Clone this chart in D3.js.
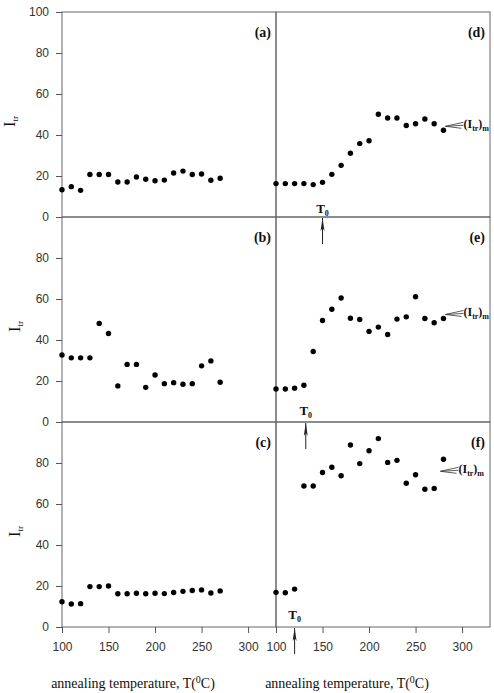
<!DOCTYPE html>
<meta charset="utf-8">
<head>
    <title>Itr vs annealing temperature</title>
    <script type="text/javascript" src="https://cdn.jsdelivr.net/npm/d3@7/dist/d3.min.js"></script>
    <style>
        body { margin: 0; background: #fff; }
        .tick text { font-family: "Liberation Sans", Arial, sans-serif; font-size: 12px; fill: #333; }
        .tick line { stroke: #555; }
        .serif { font-family: "Liberation Serif", "Times New Roman", serif; fill: #111; }
    </style>
</head>
<body>
<script>

// data
var tempLeft  = [100,110,120,130,140,150,160,170,180,190,200,210,220,230,240,250,260,270]
var tempRight = [100,110,120,130,140,150,160,170,180,190,200,210,220,230,240,250,260,270,280]

var itrA = [13.3,14.8,13.0,20.7,20.7,20.7,17.1,17.1,19.5,18.4,17.7,18.0,21.5,22.4,20.7,21.0,17.9,18.9]
var itrB = [32.7,31.3,31.3,31.3,48.1,43.2,17.6,28.1,28.1,16.9,22.9,18.7,19.2,18.4,18.7,27.4,29.8,19.4]
var itrC = [12.3,11.2,11.4,19.7,19.7,20.0,16.2,16.2,16.5,16.2,16.5,16.3,16.8,17.4,17.8,18.1,16.6,17.6]
var itrD = [16.3,16.3,16.3,16.3,15.8,16.9,20.8,25.2,31.1,35.8,37.2,50.1,48.3,48.3,44.6,45.5,47.8,45.5,42.3]
var itrE = [16.1,16.1,16.5,17.9,34.4,49.5,55.0,60.5,50.6,50.0,44.2,46.3,42.7,50.2,51.3,61.1,50.5,48.4,50.5]
var itrF = [16.9,16.7,18.5,68.8,68.8,75.4,77.9,73.8,88.8,79.7,86.0,91.9,80.3,81.3,70.1,74.3,67.2,67.6,81.8]

var leftLabels  = ["(a)","(b)","(c)"]
var rightLabels = ["(d)","(e)","(f)"]
var t0Values = [150, 132, 120]          // T0 arrows of (d), (e), (f)
var itrMValues = [42.3, 50.5, 74.0]     // where the (Itr)m arrows point
var xTicks = [100,150,200,250,300]

// svg
var w = 494
var h = 693
var svg = d3.select("body").append("svg").attr("width", w).attr("height", h)

var x0 = 62, xMid = 276, x1 = 490
var top0 = 12, ph = 205

var xL = d3.scaleLinear().domain([100,330]).range([x0, xMid])
var xR = d3.scaleLinear().domain([100,330]).range([xMid, x1])

var rows = [
    {left: itrA, right: itrD, ticks: [0,20,40,60,80,100], lab: 15, t0off: 4},
    {left: itrB, right: itrE, ticks: [0,20,40,60,80], lab: 20, t0off: 7},
    {left: itrC, right: itrF, ticks: [0,20,40,60,80], lab: 20, t0off: 8}
]

rows.forEach(function(r, i) {
    var t = top0 + i*ph
    var y = d3.scaleLinear().domain([0,100]).range([t+ph, t])

    // frames
    svg.append("rect").attr("x", x0).attr("y", t).attr("width", xMid-x0).attr("height", ph)
        .style("fill","none").style("stroke","#666")
    svg.append("rect").attr("x", xMid).attr("y", t).attr("width", x1-xMid).attr("height", ph)
        .style("fill","none").style("stroke","#666")

    // y axis
    var ga = svg.append("g").attr("transform","translate("+x0+",0)")
        .call(d3.axisLeft(y).tickValues(r.ticks).tickSize(6).tickPadding(7))
    ga.select(".domain").remove()

    // axis title
    var lt = svg.append("text").attr("class","serif")
        .attr("transform","translate("+r.lab+","+(t+ph/2+7)+") rotate(-90)")
        .attr("text-anchor","middle").style("font-size","16px")
    lt.append("tspan").text("I")
    lt.append("tspan").attr("dy", 3).style("font-size","9px").text("tr")

    // points
    svg.append("g").selectAll("circle").data(r.left).enter().append("circle")
        .attr("cx", function(d,j){return xL(tempLeft[j])})
        .attr("cy", function(d){return y(d)})
        .attr("r", 2.7).style("fill","#000")
    svg.append("g").selectAll("circle").data(r.right).enter().append("circle")
        .attr("cx", function(d,j){return xR(tempRight[j])})
        .attr("cy", function(d){return y(d)})
        .attr("r", 2.7).style("fill","#000")

    // panel letters
    svg.append("text").attr("class","serif").attr("x", xMid-5).attr("y", t+25)
        .attr("text-anchor","end").style("font-size","14px").style("font-weight","bold").text(leftLabels[i])
    svg.append("text").attr("class","serif").attr("x", x1-5).attr("y", t+25)
        .attr("text-anchor","end").style("font-size","14px").style("font-weight","bold").text(rightLabels[i])

    // T0 label and arrow below the panel
    var tx = xR(t0Values[i])
    var tb = t + ph
    var tl = svg.append("text").attr("class","serif").attr("x", tx).attr("y", tb-r.t0off)
        .attr("text-anchor","middle").style("font-size","13px").style("font-weight","bold")
    tl.append("tspan").text("T")
    tl.append("tspan").attr("dy", 3).style("font-size","8px").text("0")
    svg.append("path")
        .attr("d", "M"+tx+","+(tb+27)+" L"+tx+","+(tb+1))
        .style("stroke","#222").style("stroke-width",1)
    svg.append("path")
        .attr("d", "M"+tx+","+(tb+1)+" L"+(tx-2)+","+(tb+14)+" L"+tx+","+(tb+11)+" L"+(tx+2)+","+(tb+14)+" Z")
        .style("fill","#222")

    // (Itr)m arrow
    var ay = y(itrMValues[i]) - 4
    var ax = xR(280) + 2
    if (i == 2) ax = xR(280) - 3
    svg.append("path")
        .attr("d", "M"+ax+","+ay+" L"+(ax+18)+","+(ay-4)+" M"+ax+","+ay+" L"+(ax+18)+","+(ay-1)
                 +" M"+ax+","+ay+" L"+(ax+16)+","+(ay+2))
        .style("stroke","#333").style("stroke-width",0.8).style("fill","none")
    var mt = svg.append("text").attr("class","serif").attr("x", ax+18).attr("y", ay+2)
        .style("font-size","12px").style("font-weight","bold")
    mt.append("tspan").text("(I")
    mt.append("tspan").attr("dy", 3).style("font-size","8px").text("tr")
    mt.append("tspan").attr("dy", -3).text(")")
    mt.append("tspan").attr("dy", 3).style("font-size","8px").text("m")
})

// bottom axes
var yb = top0 + 3*ph
var gl = svg.append("g").attr("transform","translate(0,"+yb+")")
    .call(d3.axisBottom(xL).tickValues(xTicks).tickSize(6).tickPadding(9))
gl.select(".domain").remove()
var gr = svg.append("g").attr("transform","translate(0,"+yb+")")
    .call(d3.axisBottom(xR).tickValues(xTicks).tickSize(6).tickPadding(9))
gr.select(".domain").remove()

// axis titles
function xTitle(cx) {
    var tt = svg.append("text").attr("class","serif").attr("x", cx).attr("y", 688)
        .attr("text-anchor","middle").style("font-size","14px")
    tt.append("tspan").text("annealing temperature, T(")
    tt.append("tspan").attr("dy", -5).style("font-size","10px").text("0")
    tt.append("tspan").attr("dy", 5).text("C)")
}
xTitle(133)
xTitle(347)

</script>
</body>
</html>
